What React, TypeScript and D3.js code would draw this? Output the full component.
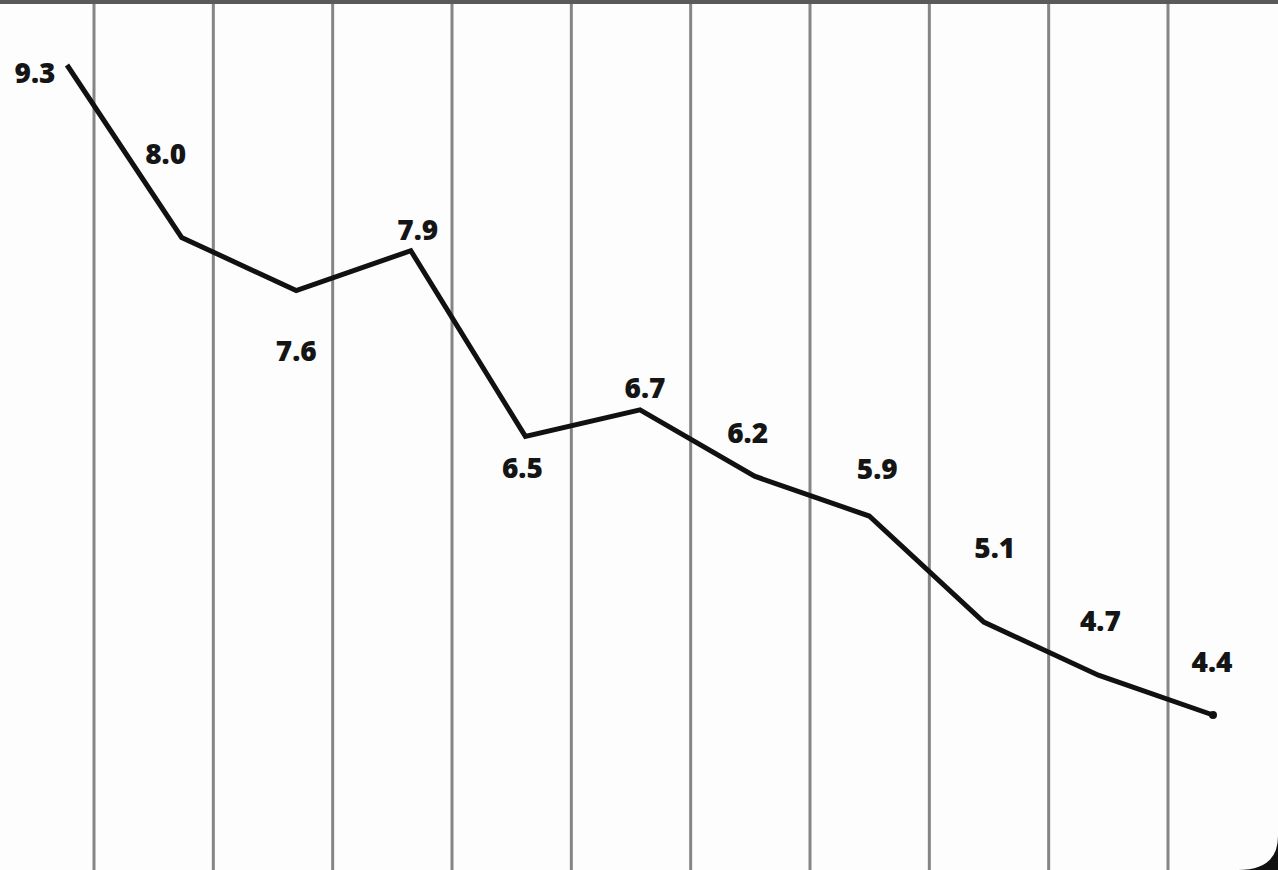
import React from "react";
import * as d3 from "d3";

const values: number[] = [9.3, 8.0, 7.6, 7.9, 6.5, 6.7, 6.2, 5.9, 5.1, 4.7, 4.4];
const valueLabels: string[] = ["9.3", "8.0", "7.6", "7.9", "6.5", "6.7", "6.2", "5.9", "5.1", "4.7", "4.4"];
const gridIndex: number[] = [1, 2, 3, 4, 5, 6, 7, 8, 9, 10];

// label offsets relative to each point (layout)
const labelDx = [-32, -16, 0, 7, -3, 5, -7, 8, 11, 2, -1];
const labelDy = [11, -81, 63, -18, 34, -19, -41, -45, -72, -52, -50];

const W = 1278;
const H = 870;

export default function App() {
  const x = d3.scaleLinear().domain([0, values.length - 1]).range([67, 1213]);
  const y = d3.scaleLinear().domain([4.4, 9.3]).range([715, 65]);
  const gx = d3.scaleLinear().domain([1, 10]).range([94, 1168]);

  const line = d3
    .line<number>()
    .x((_, i) => x(i))
    .y((d) => y(d));

  const n = values.length;
  const lastX = x(n - 1);
  const lastY = y(values[n - 1]);

  return (
    <svg
      width={W}
      height={H}
      viewBox={`0 0 ${W} ${H}`}
      style={{ position: "fixed", left: 0, top: 0, display: "block" }}
    >
      <rect x={0} y={0} width={W} height={H} fill="#fdfdfd" />
      {gridIndex.map((g) => (
        <line
          key={g}
          x1={gx(g)}
          x2={gx(g)}
          y1={0}
          y2={H}
          stroke="#858585"
          strokeWidth={3}
        />
      ))}
      <rect x={0} y={0} width={W} height={4} fill="#5a5a5a" />
      <path
        d={line(values) as string}
        fill="none"
        stroke="#111"
        strokeWidth={5}
        strokeLinejoin="miter"
        strokeLinecap="butt"
      />
      <circle cx={lastX} cy={lastY} r={4} fill="#111" />
      {values.map((v, i) => (
        <text
          key={i}
          x={x(i) + labelDx[i]}
          y={y(v) + labelDy[i]}
          textAnchor="middle"
          dominantBaseline="middle"
          fontFamily="'Open Sans', Lato, sans-serif"
          fontWeight={800}
          fontSize={28}
          fill="#151515"
        >
          {valueLabels[i]}
        </text>
      ))}
      <path d={`M${W},836 Q${W},${H} 1238,${H} L${W},${H} Z`} fill="#111" />
    </svg>
  );
}
